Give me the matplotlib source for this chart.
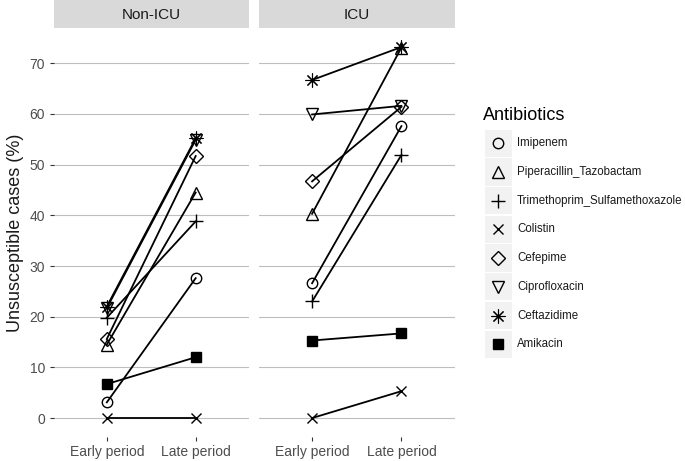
import matplotlib
matplotlib.use("Agg")
import matplotlib.pyplot as plt
from matplotlib.patches import Rectangle

plt.rcParams['font.family'] = ['Liberation Sans', 'DejaVu Sans']

# Data (unsusceptible cases, %)
antibiotics = ["Imipenem", "Piperacillin_Tazobactam", "Trimethoprim_Sulfamethoxazole",
               "Colistin", "Cefepime", "Ciprofloxacin", "Ceftazidime", "Amikacin"]
periods = ["Early period", "Late period"]
facets = ["Non-ICU", "ICU"]

non_icu_early = [3.1, 14.5, 19.8, 0.0, 15.6, 21.7, 22.0, 6.7]
non_icu_late = [27.6, 44.5, 38.8, 0.0, 51.7, 54.9, 55.2, 12.0]
icu_early = [26.6, 40.3, 23.0, 0.0, 46.7, 59.9, 66.7, 15.3]
icu_late = [57.6, 73.1, 51.9, 5.3, 61.4, 61.6, 73.2, 16.7]

y_ticks = [0, 10, 20, 30, 40, 50, 60, 70]

# ggplot-like shapes: 1, 2, 3, 4, 5, 6, 8, 15
marker_style = {
    "Imipenem": dict(marker="o", mfc="none", ms=7.5, mew=1.0),
    "Piperacillin_Tazobactam": dict(marker="^", mfc="none", ms=8.5, mew=1.0),
    "Trimethoprim_Sulfamethoxazole": dict(marker="+", mfc="black", ms=10.5, mew=1.0),
    "Colistin": dict(marker="x", mfc="black", ms=7.5, mew=1.0),
    "Cefepime": dict(marker="D", mfc="none", ms=7.5, mew=1.0),
    "Ciprofloxacin": dict(marker="v", mfc="none", ms=8.5, mew=1.0),
    "Ceftazidime": dict(marker=(8, 2, 0), mfc="black", ms=10, mew=0.8),
    "Amikacin": dict(marker="s", mfc="black", ms=6.5, mew=1.0),
}

W, H = 685, 461


def frac(x0, y0, x1, y1):
    return [x0 / W, 1 - y1 / H, (x1 - x0) / W, (y1 - y0) / H]


fig = plt.figure(figsize=(W / 100, H / 100), dpi=100)

all_vals = non_icu_early + non_icu_late + icu_early + icu_late
lo, hi = min(all_vals), max(all_vals)
pad = 0.05 * (hi - lo)

panel_x = [(53.5, 249), (258.5, 455)]
panel_data = [(non_icu_early, non_icu_late), (icu_early, icu_late)]

for i, facet in enumerate(facets):
    x0, x1 = panel_x[i]
    ax = fig.add_axes(frac(x0, 28.5, x1, 436.6))
    early, late = panel_data[i]
    for j, ab in enumerate(antibiotics):
        st = marker_style[ab]
        ax.plot([1, 2], [early[j], late[j]], color="black", lw=1.3, zorder=3)
        ax.plot([1, 2], [early[j], late[j]], linestyle="none", color="black",
                marker=st["marker"], mfc=st["mfc"], mec="black",
                ms=st["ms"], mew=st["mew"], zorder=4)
    ax.set_xlim(0.4, 2.6)
    ax.set_ylim(lo - pad, hi + pad)
    ax.set_yticks(y_ticks)
    ax.set_xticks([1, 2])
    ax.set_xticklabels(periods)
    ax.grid(axis="y", color="#BEBEBE", lw=0.8)
    ax.set_axisbelow(True)
    for s in ax.spines.values():
        s.set_visible(False)
    ax.tick_params(axis="both", length=3, width=0.8, color="#333333",
                   labelcolor="#4D4D4D", labelsize=10, pad=3)
    if i == 0:
        ax.set_ylabel("Unsusceptible cases (%)", fontsize=13, color="#1A1A1A", labelpad=4)
    else:
        ax.tick_params(axis="y", left=False, labelleft=False)

    # facet strip
    sax = fig.add_axes(frac(x0, 0, x1, 28.5))
    sax.set_facecolor("#D9D9D9")
    sax.set_xticks([])
    sax.set_yticks([])
    for s in sax.spines.values():
        s.set_visible(False)
    sax.text(0.5, 0.48, facet, ha="center", va="center", fontsize=11,
             color="#1A1A1A", transform=sax.transAxes)

# legend drawn by hand (ggplot style grey key boxes)
lax = fig.add_axes([0, 0, 1, 1])
lax.set_xlim(0, W)
lax.set_ylim(H, 0)
lax.axis("off")
lax.text(483, 115, "Antibiotics", fontsize=13, color="black", ha="left", va="center")
row_h = 28.7
for j, ab in enumerate(antibiotics):
    cy = 143.3 + j * row_h
    lax.add_patch(Rectangle((485, cy - row_h / 2 + 0.7), 27, row_h - 1.4,
                            facecolor="#F2F2F2", edgecolor="none"))
    st = marker_style[ab]
    lax.plot([498.5], [cy], linestyle="none", color="black", marker=st["marker"],
             mfc=st["mfc"], mec="black", ms=st["ms"], mew=st["mew"])
    lax.text(517, cy, ab, fontsize=8.3, color="#1A1A1A", ha="left", va="center")

fig.savefig("out.png", dpi=100)
